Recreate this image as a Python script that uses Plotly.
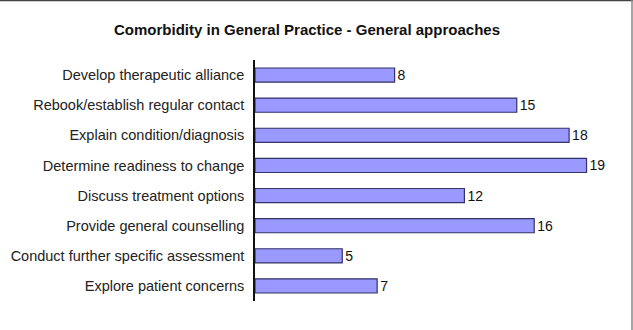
import plotly.graph_objects as go

categories = [
    "Develop therapeutic alliance",
    "Rebook/establish regular contact",
    "Explain condition/diagnosis",
    "Determine readiness to change",
    "Discuss treatment options",
    "Provide general counselling",
    "Conduct further specific assessment",
    "Explore patient concerns",
]
values = [8, 15, 18, 19, 12, 16, 5, 7]
title = "Comorbidity in General Practice - General approaches"

W, H = 633, 330
L, R, T, B = 255, 29, 60, 29
pw, ph = W - L - R, H - T - B

fig = go.Figure(go.Bar(
    x=values, y=categories, orientation="h",
    marker=dict(color="#9999FF", line=dict(color="#333366", width=1.2)),
    text=[str(v) for v in values], textposition="outside",
    constraintext="none",
    textfont=dict(family="Liberation Sans, Arial", size=14, color="#111111"),
    cliponaxis=False,
))

def px_x(p):
    return (p - L) / pw

def px_y(p):
    return (H - B - p) / ph

fig.update_layout(
    width=W, height=H,
    margin=dict(l=L, r=R, t=T, b=B),
    paper_bgcolor="white", plot_bgcolor="white",
    bargap=0.53,
    showlegend=False,
    title=dict(text="<b>" + title + "</b>", x=307 / W, xanchor="center",
               y=1 - 30 / H, yanchor="middle",
               font=dict(family="Liberation Sans, Arial", size=15, color="#111111")),
    xaxis=dict(range=[0, 20], visible=False, fixedrange=True),
    yaxis=dict(autorange="reversed", showline=True, linecolor="#111111", linewidth=1.5,
               ticks="", showgrid=False, zeroline=False, ticklabelstandoff=6,
               tickfont=dict(family="Liberation Sans, Arial", size=14.5, color="#222222")),
    shapes=[
        dict(type="line", xref="paper", yref="paper",
             x0=px_x(0), x1=px_x(W), y0=px_y(0.5), y1=px_y(0.5),
             line=dict(color="#444444", width=1.5)),
        dict(type="line", xref="paper", yref="paper",
             x0=px_x(632), x1=px_x(632), y0=px_y(0), y1=px_y(H),
             line=dict(color="#888888", width=1.5)),
    ],
)

fig.write_html("out.html")
